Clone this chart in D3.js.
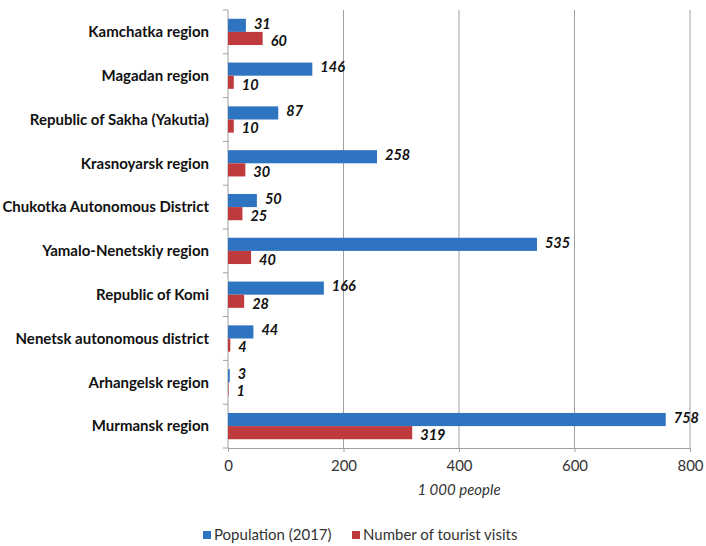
<!DOCTYPE html>
<html>
<head>
<meta charset="utf-8">
<script src="https://cdn.jsdelivr.net/npm/d3@7"></script>
<style>
	body { margin: 0; background: #fff; }
	svg text { font-family: Lato, "Open Sans", sans-serif; }
</style>
</head>
<body>
<div id="chart-area"></div>
<script>
// Chart data
let regions = ["Kamchatka region", "Magadan region", "Republic of Sakha (Yakutia)", "Krasnoyarsk region",
	"Chukotka Autonomous District", "Yamalo-Nenetskiy region", "Republic of Komi",
	"Nenetsk autonomous district", "Arhangelsk region", "Murmansk region"];
let population = [31, 146, 87, 258, 50, 535, 166, 44, 3, 758];
let touristVisits = [60, 10, 10, 30, 25, 40, 28, 4, 1, 319];
let seriesNames = ["Population (2017)", "Number of tourist visits"];
let xTicks = [0, 200, 400, 600, 800];

let width = 706,
	height = 546;

let margin = {top: 10, right: 16, bottom: 98, left: 228},
	w = width - margin.left - margin.right,
	h = height - margin.top - margin.bottom;

let colors = ["#2E74C0", "#BF3A3D"];

let svg = d3.select("#chart-area").append("svg")
	.attr("width", width)
	.attr("height", height);

let g = svg.append("g")
	.attr("transform", "translate(" + margin.left + "," + margin.top + ")");

// Scales
let x = d3.scaleLinear().domain([0, 800]).range([0, w]);
let y = d3.scaleBand().domain(regions).range([0, h]).paddingInner(0.4).paddingOuter(0.2);
let ySub = d3.scaleBand().domain([0, 1]).range([0, y.bandwidth()]);

// Gridlines
g.selectAll(".grid")
	.data(xTicks.slice(1))
	.enter()
	.append("line")
	.attr("x1", d => x(d))
	.attr("x2", d => x(d))
	.attr("y1", 0)
	.attr("y2", h)
	.attr("stroke", "#a0a0a0")
	.attr("stroke-width", 1);

// x axis
let xAxis = g.append("g")
	.attr("transform", "translate(0," + h + ")")
	.call(d3.axisBottom(x).tickValues(xTicks).tickSize(4).tickPadding(8));
xAxis.select(".domain").attr("stroke", "#a0a0a0");
xAxis.selectAll(".tick line").attr("stroke", "#a0a0a0");
xAxis.selectAll("text").attr("font-size", 15).attr("fill", "#333");

// y axis with ticks between categories
g.append("line")
	.attr("x1", 0).attr("x2", 0)
	.attr("y1", 0).attr("y2", h)
	.attr("stroke", "#a0a0a0");

let step = h / regions.length;
g.selectAll(".ytick")
	.data(d3.range(regions.length + 1))
	.enter()
	.append("line")
	.attr("x1", -5).attr("x2", 0)
	.attr("y1", d => d * step)
	.attr("y2", d => d * step)
	.attr("stroke", "#a0a0a0");

g.selectAll(".ylabel")
	.data(regions)
	.enter()
	.append("text")
	.attr("x", -19)
	.attr("y", d => y(d) + y.bandwidth() / 2)
	.attr("dy", "0.35em")
	.attr("text-anchor", "end")
	.attr("font-size", 15)
	.attr("font-weight", "bold")
	.attr("fill", "#111")
	.text(d => d);

// Bars
let series = [population, touristVisits];
series.forEach((vals, si) => {
	g.selectAll(".bar" + si)
		.data(vals)
		.enter()
		.append("rect")
		.attr("x", 0)
		.attr("y", (d, i) => y(regions[i]) + ySub(si))
		.attr("width", d => x(d))
		.attr("height", ySub.bandwidth())
		.attr("fill", colors[si]);

	g.selectAll(".val" + si)
		.data(vals)
		.enter()
		.append("text")
		.attr("x", d => x(d) + 8)
		.attr("y", (d, i) => y(regions[i]) + ySub(si) + ySub.bandwidth() / 2)
		.attr("dy", si === 0 ? "0.22em" : "0.5em")
		.attr("font-size", 14.5)
		.attr("font-weight", "bold")
		.attr("font-style", "italic")
		.attr("fill", "#111")
		.text(d => d);
});

// x axis title
g.append("text")
	.attr("x", w / 2)
	.attr("y", h + 47)
	.attr("text-anchor", "middle")
	.attr("font-size", 15)
	.attr("font-style", "italic")
	.attr("fill", "#333")
	.text("1 000 people");

// Legend
let legendX = [203, 352];
let legend = svg.selectAll(".legend")
	.data(seriesNames)
	.enter()
	.append("g")
	.attr("transform", (d, i) => "translate(" + legendX[i] + ",535)");

legend.append("rect")
	.attr("x", 0).attr("y", -4)
	.attr("width", 8).attr("height", 8)
	.attr("fill", (d, i) => colors[i]);

legend.append("text")
	.attr("x", 11)
	.attr("dy", "0.35em")
	.attr("font-size", 15)
	.attr("fill", "#333")
	.text(d => d);
</script>
</body>
</html>
